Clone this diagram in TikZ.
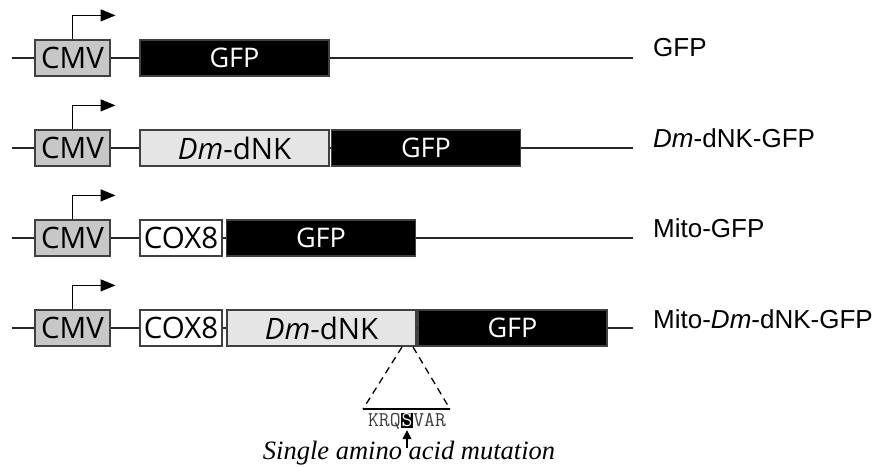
\documentclass[tikz,border=0pt]{standalone}
\usepackage{fontspec}
\usepackage{xcolor}
\usepackage{tikz}
\usetikzlibrary{arrows.meta, positioning, calc}

\newfontfamily\opensans{Open Sans}
\newfontfamily\arialsans{Liberation Sans}
\newfontfamily\mutserif{Liberation Serif}

\newcommand{\boxfont}{\opensans\fontsize{29.5}{30}\selectfont}
\newcommand{\gfpfont}{\opensans\fontsize{27}{28}\selectfont}
\newcommand{\constructfont}{\arialsans\fontsize{26}{27}\selectfont}
\newcommand{\seqfont}{\ttfamily\fontsize{21}{22}\selectfont}
\newcommand{\mutfont}{\mutserif\itshape\fontsize{26.5}{27}\selectfont}

\begin{document}
\begin{tikzpicture}[x=1pt, y=-1pt,
    box/.style={draw=black!75, line width=1.2pt, minimum height=36pt, inner sep=0pt, font=\boxfont},
    cmvbox/.style={box, fill=black!22, minimum width=75pt},
    gfpbox/.style={box, fill=black, text=white, minimum width=189pt, font=\gfpfont},
    dnkbox/.style={box, fill=black!10, minimum width=189pt},
    coxbox/.style={box, fill=white, minimum width=82pt},
    backbone/.style={line width=1.4pt, black!85},
    promoter/.style={line width=1.4pt, -{Triangle[length=15pt,width=12pt]}},
    construct/.style={anchor=base west, inner sep=0pt, font=\constructfont}]
  \useasboundingbox (0,0) rectangle (881,466);

  % Promoter in every row
  \foreach \r/\y in {1/58, 2/148, 3/238, 4/328} {
    \node[cmvbox] (cmv\r) at (72.5,\y) {CMV};
    \coordinate (start\r) at (12,\y);
    \coordinate (end\r) at (633,\y);
    \draw[promoter] (cmv\r.north) -- ++(0,-24) -- ++(43,0);
  }

  % GFP
  \node[gfpbox] (gfp1) at (234.5,58) {GFP};
  \draw[backbone] (start1) -- (cmv1.west) (cmv1.east) -- (gfp1.west) (gfp1.east) -- (end1);
  \node[construct] (lab1) at (653,56) {GFP};

  % Dm-dNK-GFP
  \node[dnkbox] (dnk2) at (234.5,148) {\textit{Dm}-dNK};
  \node[gfpbox] (gfp2) at (426,148) {GFP};
  \draw[backbone] (start2) -- (cmv2.west) (cmv2.east) -- (dnk2.west)
    (dnk2.east) -- (gfp2.west) (gfp2.east) -- (end2);
  \node[construct] (lab2) at (653,147) {\textit{Dm}-dNK-GFP};

  % Mito-GFP
  \node[coxbox] (cox3) at (181,238) {COX8};
  \node[gfpbox] (gfp3) at (321,238) {GFP};
  \draw[backbone] (start3) -- (cmv3.west) (cmv3.east) -- (cox3.west)
    (cox3.east) -- (gfp3.west) (gfp3.east) -- (end3);
  \node[construct] (lab3) at (653,237) {Mito-GFP};

  % Mito-Dm-dNK-GFP
  \node[coxbox] (cox4) at (181,328) {COX8};
  \node[dnkbox] (dnk4) at (321.5,328) {\textit{Dm}-dNK};
  \node[gfpbox] (gfp4) at (512.5,328) {GFP};
  \draw[backbone] (start4) -- (cmv4.west) (cmv4.east) -- (cox4.west)
    (cox4.east) -- (dnk4.west) (dnk4.east) -- (gfp4.west) (gfp4.east) -- (end4);
  \node[construct] (lab4) at (653,328) {Mito-\textit{Dm}-dNK-GFP};

  % Zoom on the mutation site
  \coordinate (zoomL) at (402,347);
  \coordinate (zoomR) at (413,347);
  \coordinate (baseL) at (363,409);
  \coordinate (baseR) at (450,409);
  \draw[line width=1.3pt, dash pattern=on 7pt off 5pt] (zoomL) -- (baseL) (zoomR) -- (baseR);
  \draw[line width=1.5pt] (baseL) -- (baseR);
  \node[font=\seqfont, text=black!75, inner sep=0.5pt] (seq) at (407,421)
    {KRQ{\fboxsep=1pt\colorbox{black}{\textcolor{white}{S}}}VAR};
  \node[font=\mutfont, inner sep=0pt] (mut) at (409,453) {Single amino acid mutation};
  \coordinate (mutarrow) at (407,448);
  \draw[line width=1.4pt, -{Triangle[length=9pt,width=9pt]}] (mutarrow) -- (seq.south);
\end{tikzpicture}
\end{document}
